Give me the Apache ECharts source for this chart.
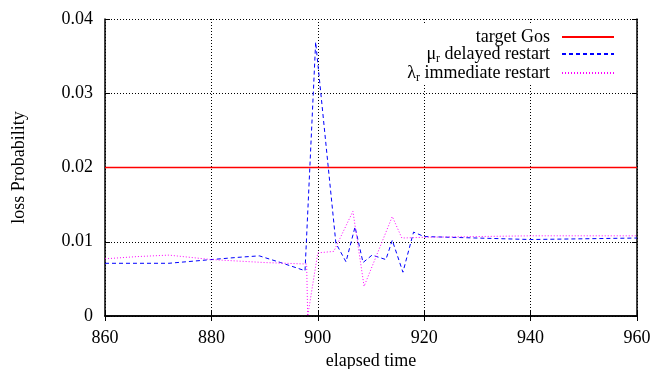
<!DOCTYPE html>
<html>
<head>
<meta charset="utf-8">
<script src="https://cdn.jsdelivr.net/npm/echarts@6/dist/echarts.min.js"></script>
<style>
  html, body { margin: 0; padding: 0; background: #fff; }
  #chart { width: 657px; height: 369px; }
</style>
</head>
<body>
<div id="chart"></div>
<script>
// valores
var targetX = [860, 960];
var targetY = [0.02, 0.02];

var delayedX = [860, 866, 872, 880, 885, 889, 893, 897.6, 899.6, 903.4, 905.3, 907, 908.5, 910.2, 911.5, 912.8, 914, 916, 918, 920, 930, 940, 950, 960];
var delayedY = [0.0071, 0.0071, 0.0071, 0.0076, 0.0079, 0.0081, 0.0072, 0.0061, 0.0369, 0.0098, 0.0073, 0.0120, 0.0072, 0.0082, 0.0079, 0.0076, 0.0102, 0.0059, 0.0113, 0.0107, 0.0105, 0.0103, 0.0104, 0.0105];

var immediateX = [860, 866, 872, 880, 890, 897.9, 898.1, 900, 903, 906.6, 908.7, 914, 915.8, 920, 940, 960];
var immediateY = [0.0077, 0.0080, 0.0082, 0.0076, 0.0072, 0.0070, 0.0000, 0.0085, 0.0087, 0.0141, 0.0040, 0.0134, 0.0105, 0.0106, 0.0108, 0.0108];

var xTicks = [860, 880, 900, 920, 940, 960];
var yTicks = [0, 0.01, 0.02, 0.03, 0.04];

function pares(xs, ys) {
    return xs.map(function (x, i) { return [x, ys[i]]; });
}

var fonte = 'Liberation Serif';
var rotulos = {
    'target Gos': '{t|target Gos}',
    'mu delayed': '{t|μ}{s|r}{t| delayed restart}',
    'lambda immediate': '{t|λ}{s|r}{t| immediate restart}'
};

var eixoX = {
    type: 'value',
    min: xTicks[0],
    max: xTicks[xTicks.length - 1],
    interval: 20,
    axisLine: { show: true, lineStyle: { color: '#000', width: 1.5 } },
    axisTick: { show: true, inside: true, length: 5, lineStyle: { color: '#000' } },
    splitLine: { show: false }
};
var eixoY = {
    type: 'value',
    min: yTicks[0],
    max: yTicks[yTicks.length - 1],
    interval: 0.01,
    axisLine: { show: true, lineStyle: { color: '#000', width: 1.5 } },
    axisTick: { show: true, inside: true, length: 5, lineStyle: { color: '#000' } },
    splitLine: { show: false }
};

option = {
    animation: false,
    backgroundColor: '#fff',
    grid: { left: 105, right: 20, top: 19, bottom: 53, containLabel: false, outerBoundsMode: 'none' },
    legend: {
        orient: 'vertical',
        right: 40,
        top: 24,
        align: 'right',
        itemWidth: 52,
        itemHeight: 6,
        itemGap: -1,
        padding: [4, 2, 0, 6],
        backgroundColor: '#fff',
        itemStyle: { color: 'rgba(0,0,0,0)', borderColor: 'rgba(0,0,0,0)', borderWidth: 0 },
        data: ['target Gos', 'mu delayed', 'lambda immediate'],
        formatter: function (name) { return rotulos[name]; },
        textStyle: {
            padding: [0, 7, 0, 0],
            rich: {
                t: { fontFamily: fonte, fontSize: 18, color: '#000', lineHeight: 22, verticalAlign: 'middle' },
                s: { fontFamily: fonte, fontSize: 12, color: '#000', lineHeight: 12, verticalAlign: 'bottom' }
            }
        }
    },
    xAxis: [
        Object.assign({}, eixoX, {
            position: 'bottom',
            name: 'elapsed time',
            nameLocation: 'middle',
            nameGap: 34,
            nameTextStyle: { fontFamily: fonte, fontSize: 18, color: '#000' },
            axisLabel: { fontFamily: fonte, fontSize: 18, color: '#000', margin: 13 },
            splitLine: { show: true, lineStyle: { color: '#000', type: [1, 2], width: 1 } }
        }),
        Object.assign({}, eixoX, { position: 'top', axisLabel: { show: false } })
    ],
    yAxis: [
        Object.assign({}, eixoY, {
            position: 'left',
            name: 'loss Probability',
            nameLocation: 'middle',
            nameGap: 77,
            nameTextStyle: { fontFamily: fonte, fontSize: 18, color: '#000' },
            axisLabel: {
                fontFamily: fonte, fontSize: 18, color: '#000', margin: 12,
                formatter: function (v) { return v === 0 ? '0' : v.toFixed(2); }
            },
            splitLine: { show: true, lineStyle: { color: '#000', type: [1, 2], width: 1 } }
        }),
        Object.assign({}, eixoY, { position: 'right', axisLabel: { show: false } })
    ],
    series: [
        {
            name: 'target Gos',
            type: 'line',
            symbol: 'none',
            z: 3,
            data: pares(targetX, targetY),
            lineStyle: { color: '#ff0000', width: 1.5, type: 'solid' },
            itemStyle: { color: '#ff0000' }
        },
        {
            name: 'mu delayed',
            type: 'line',
            symbol: 'none',
            data: pares(delayedX, delayedY),
            lineStyle: { color: '#0000ff', width: 1, type: [4, 3] },
            itemStyle: { color: '#0000ff' }
        },
        {
            name: 'lambda immediate',
            type: 'line',
            symbol: 'none',
            data: pares(immediateX, immediateY),
            lineStyle: { color: '#ff00ff', width: 1, type: [1, 2] },
            itemStyle: { color: '#ff00ff' }
        }
    ]
};

var myChart = echarts.init(document.getElementById('chart'));
myChart.setOption(option);
</script>
</body>
</html>
